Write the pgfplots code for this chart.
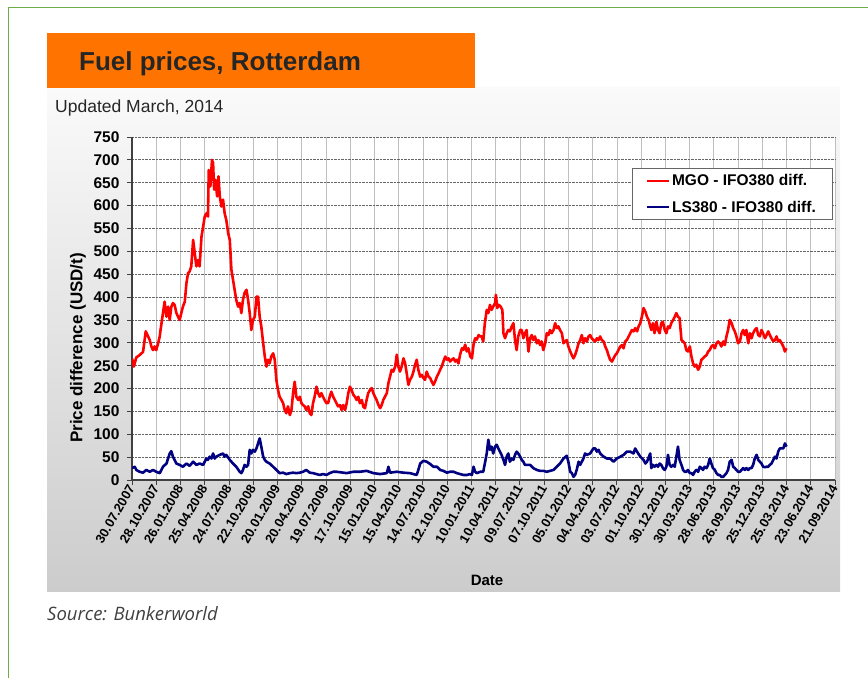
\documentclass[border=0pt]{standalone}
\usepackage{fontspec}
\setmainfont{Liberation Sans}
\newfontfamily\srcfont{Open Sans}
\usepackage{pgfplots}
\pgfplotsset{compat=1.18}
\definecolor{orangeT}{RGB}{255,116,0}
\definecolor{greenB}{RGB}{112,173,71}
\definecolor{mgo}{RGB}{255,0,0}
\definecolor{lsc}{RGB}{0,0,128}
\begin{document}
\begin{tikzpicture}[x=1pt,y=1pt]
\path[use as bounding box] (0,0) rectangle (868,678);
\draw[greenB, line width=1.3pt] (8.5,0) -- (8.5,670.5) -- (868,670.5);
\shade[top color=white!98!black, bottom color=black!20] (47,86) rectangle (840,590);
\fill[orangeT] (47,590) rectangle (475,645);
\node[anchor=base west, inner sep=0, font=\bfseries\fontsize{26}{30}\selectfont, text=black!85] at (79,607) {Fuel prices, Rotterdam};
\node[anchor=base west, inner sep=0, font=\fontsize{17.5}{20}\selectfont, text=black!85] at (55,565) {Updated March, 2014};
\node[anchor=base west, inner sep=0, font=\srcfont\itshape\fontsize{18.5}{22}\selectfont, text=black!75] at (47,58) {Source: Bunkerworld};
\begin{axis}[
  at={(132pt,198pt)}, anchor=south west,
  scale only axis, width=703pt, height=343pt,
  xmin=0, xmax=2610, ymin=0, ymax=750,
  axis lines*=left,
  axis line style={black!75, line width=1.2pt},
  xtick={0,90,...,2610},
  ytick={0,50,...,750},
  xticklabels={30.07.2007,28.10.2007,26.01.2008,25.04.2008,24.07.2008,22.10.2008,20.01.2009,20.04.2009,19.07.2009,17.10.2009,15.01.2010,15.04.2010,14.07.2010,12.10.2010,10.01.2011,10.04.2011,09.07.2011,07.10.2011,05.01.2012,04.04.2012,03.07.2012,01.10.2012,30.12.2012,30.03.2013,28.06.2013,26.09.2013,25.12.2013,25.03.2014,23.06.2014,21.09.2014},
  tick align=outside, major tick length=5pt,
  tick style={black!75, line width=0.8pt},
  xmajorgrids, ymajorgrids,
  major x grid style={black!25, line width=0.6pt},
  major y grid style={black!60, densely dotted, line width=0.8pt},
  axis background/.style={fill=white},
  /pgf/number format/assume math mode=true,
  x tick label style={rotate=60, anchor=east, font=\bfseries\fontsize{13}{15}\selectfont, inner sep=1pt},
  y tick label style={font=\bfseries\fontsize{15.5}{18}\selectfont, xshift=-4pt},
  ylabel={Price difference (USD/t)},
  ylabel style={at={(axis description cs:-0.077,0.385)}, anchor=center, font=\bfseries\fontsize{17}{20}\selectfont},
  xlabel={Date},
  xlabel style={at={(axis description cs:0.505,-0.2915)}, anchor=center, font=\bfseries\fontsize{15}{18}\selectfont},
  legend style={at={(axis description cs:0.711,0.9096)}, anchor=north west, draw=black!60, fill=white,
    font=\bfseries\fontsize{15.5}{17}\selectfont, inner xsep=14pt, inner ysep=4pt, row sep=10pt},
  legend cell align=left,
  legend image code/.code={\draw[#1, line width=2pt] (0pt,0pt) -- (22pt,0pt);},
]
\addplot[mgo, line width=2.6pt, line join=round] coordinates {
(0,266)(7,248)(16,268)(28,273)(35,277)(41,280)(51,325)(66,306)(72,292)(78,284)(84,292)(90,284)(97,299)(103,314)(106,328)(115,365)(121,390)(128,357)(134,379)(140,350)(146,379)(152,387)(158,383)(165,365)(171,357)(177,350)(183,365)(189,379)(196,390)(202,430)(208,452)(214,456)(220,467)(227,525)(233,496)(239,467)(245,481)(251,467)(258,532)(264,554)(270,576)(276,583)(282,576)(285,678)(291,642)(297,700)(301,693)(305,635)(310,656)(316,620)(321,664)(326,620)(332,598)(338,613)(344,583)(350,569)(357,540)(363,525)(369,460)(375,438)(381,416)(387,394)(394,379)(400,387)(406,365)(412,394)(418,409)(425,416)(431,394)(437,365)(443,328)(449,350)(456,357)(462,401)(468,401)(474,357)(480,336)(487,299)(493,270)(499,248)(505,263)(511,255)(517,270)(524,277)(530,263)(536,219)(542,197)(548,182)(555,175)(561,168)(567,153)(573,146)(579,161)(586,142)(592,153)(598,190)(604,215)(610,182)(617,175)(623,182)(629,168)(635,164)(641,161)(647,153)(654,161)(660,146)(666,142)(672,168)(678,182)(685,204)(691,190)(697,182)(703,190)(709,182)(715,175)(722,168)(728,168)(734,182)(740,193)(747,182)(753,175)(759,168)(765,161)
(772,164)(778,153)(784,164)(791,153)(797,168)(803,190)(809,204)(815,197)(822,186)(828,182)(834,175)(840,182)(846,168)(853,175)(859,160)(865,157)(871,175)(877,190)(884,197)(890,201)(896,190)(902,182)(908,175)(915,164)(921,157)(927,164)(933,175)(939,182)(946,190)(952,212)(958,226)(964,241)(970,237)(977,248)(983,274)(989,248)(995,237)(1001,248)(1008,266)(1014,255)(1020,233)(1026,208)(1032,219)(1039,226)(1045,237)(1051,252)(1057,263)(1063,241)(1070,226)(1076,230)(1082,223)(1088,219)(1094,237)(1101,226)(1107,223)(1113,215)(1119,208)(1125,215)(1132,226)(1138,233)(1144,241)(1150,248)(1156,259)(1163,270)(1169,263)(1175,266)(1181,259)(1187,263)(1194,266)(1200,259)(1206,263)(1212,255)(1218,274)(1225,288)(1231,285)(1237,296)(1243,281)(1249,288)(1256,270)(1262,266)(1268,296)(1274,310)(1280,307)(1287,317)(1293,314)
(1298,314)(1304,303)(1310,343)(1317,372)(1323,365)(1329,383)(1335,372)(1341,379)(1348,387)(1351,405)(1356,376)(1362,383)(1369,379)(1375,372)(1379,321)(1385,310)(1391,321)(1397,328)(1403,325)(1410,336)(1416,343)(1422,306)(1428,284)(1434,314)(1441,328)(1447,328)(1453,310)(1459,321)(1465,328)(1472,281)(1478,310)(1484,317)(1490,306)(1496,314)(1503,299)(1509,306)(1515,295)(1521,303)(1527,284)(1534,299)(1540,321)(1546,317)(1552,328)(1558,321)(1565,328)(1571,343)(1577,332)(1583,336)(1589,328)(1596,321)(1602,299)(1608,303)(1614,306)(1620,292)(1627,281)(1633,273)(1639,266)(1645,273)(1651,284)(1658,299)(1664,306)(1670,317)(1676,299)(1682,310)(1689,303)(1695,314)(1701,317)(1707,310)(1713,306)(1720,303)(1726,310)(1732,306)(1738,314)(1744,306)(1751,303)(1757,292)(1763,284)(1769,273)(1775,263)(1782,259)(1788,266)(1794,273)(1800,277)(1806,284)(1813,292)(1819,295)(1825,288)(1831,303)(1837,306)(1844,314)(1850,321)(1856,328)(1862,325)(1868,332)(1875,325)(1881,336)(1887,343)(1893,357)(1899,376)(1906,368)(1912,357)(1918,350)(1924,336)
(1928,328)(1934,343)(1940,321)(1947,346)(1953,328)(1959,321)(1965,343)(1971,346)(1978,328)(1984,321)(1990,336)(1996,332)(2002,343)(2009,350)(2015,357)(2021,365)(2027,357)(2033,354)(2040,306)(2046,303)(2052,299)(2058,284)(2064,281)(2071,292)(2077,270)(2083,255)(2089,248)(2095,252)(2102,241)(2108,248)(2114,263)(2120,266)(2126,270)(2133,273)(2139,281)(2145,284)(2151,292)(2157,295)(2164,288)(2170,299)(2176,303)(2182,299)(2188,292)(2195,303)(2201,295)(2207,314)(2213,328)(2219,350)(2226,343)(2232,332)(2238,325)(2244,314)(2250,299)(2257,303)(2263,321)(2269,328)(2275,317)(2281,328)(2288,299)(2294,321)(2300,310)(2306,321)(2312,328)(2319,332)(2325,317)(2331,314)(2337,328)(2343,321)(2350,310)(2356,317)(2362,325)(2368,317)(2374,310)(2381,303)(2387,306)(2393,314)(2399,303)(2405,306)(2412,299)(2418,292)(2424,281)(2430,288)
};
\addlegendentry{MGO - IFO380 diff.}
\addplot[lsc, line width=2.6pt, line join=round] coordinates {
(0,26)(10,29)(16,22)(28,18)(41,16)(53,22)(66,18)(78,22)(90,18)(103,15)(109,22)(115,29)(128,36)(140,58)(146,63)(152,51)(158,44)(165,36)(177,33)(189,29)(202,36)(214,31)(227,40)(239,33)(251,36)(264,33)(276,47)(282,44)(288,51)(295,47)(301,58)(307,47)(313,51)(326,55)(338,58)(344,51)(350,55)(363,44)(375,36)(387,29)(400,18)(406,15)(412,22)(418,33)(425,29)(431,33)(437,66)(443,58)(449,66)(456,62)(462,69)(468,80)(474,91)(480,73)(487,51)(493,44)(499,40)(511,36)(524,29)(536,22)(548,15)(561,16)(573,13)(586,15)(598,16)(610,15)(623,16)(635,18)(647,22)(660,16)(672,15)(685,13)(697,11)(709,13)(722,11)(734,15)(747,18)(759,18)
(772,17)(797,15)(822,18)(846,18)(871,20)(896,15)(921,13)(946,15)(952,29)(958,16)(983,18)(1008,16)(1032,15)(1057,11)(1063,22)(1070,36)(1082,42)(1094,40)(1107,35)(1119,29)(1132,29)(1144,22)(1156,20)(1169,16)(1181,18)(1194,18)(1206,15)(1218,13)(1231,11)(1243,11)(1256,13)(1262,11)(1268,29)(1274,18)(1280,15)(1293,18)
(1304,18)(1310,36)(1317,58)(1323,88)(1329,66)(1335,73)(1341,58)(1348,73)(1354,77)(1360,69)(1366,62)(1372,55)(1379,44)(1385,33)(1391,51)(1397,58)(1403,40)(1410,47)(1416,44)(1422,55)(1428,62)(1434,58)(1441,51)(1447,44)(1453,40)(1459,33)(1465,33)(1478,33)(1490,26)(1503,22)(1515,20)(1527,20)(1540,18)(1552,20)(1565,22)(1577,29)(1589,36)(1602,47)(1614,53)(1620,40)(1627,18)(1633,15)(1639,7)(1645,11)(1651,22)(1658,40)(1664,33)(1676,47)(1682,58)(1689,55)(1701,58)(1713,69)(1720,69)(1726,62)(1732,66)(1738,58)(1751,51)(1763,47)(1775,47)(1788,40)(1800,47)(1813,51)(1825,55)(1837,62)(1850,62)(1862,58)(1868,69)(1875,62)(1887,51)(1899,44)(1906,36)(1912,40)(1924,58)
(1928,26)(1934,33)(1940,29)(1947,33)(1953,29)(1959,36)(1965,33)(1971,26)(1978,22)(1984,29)(1990,55)(1996,33)(2002,29)(2009,33)(2015,29)(2021,51)(2027,73)(2033,44)(2040,33)(2046,22)(2052,18)(2058,18)(2064,22)(2071,15)(2077,15)(2083,11)(2089,18)(2095,22)(2102,18)(2108,29)(2114,26)(2120,22)(2126,29)(2133,26)(2139,33)(2145,47)(2151,36)(2157,26)(2164,22)(2170,15)(2176,11)(2182,11)(2188,7)(2195,7)(2201,11)(2207,15)(2213,22)(2219,40)(2226,44)(2232,29)(2238,26)(2244,22)(2250,18)(2257,18)(2263,22)(2269,26)(2275,22)(2281,26)(2288,22)(2294,26)(2300,26)(2306,33)(2312,47)(2319,55)(2325,44)(2331,40)(2337,36)(2343,29)(2350,28)(2356,29)(2362,29)(2368,33)(2374,36)(2381,44)(2387,51)(2393,47)(2399,62)(2405,69)(2412,69)(2418,69)(2424,80)(2430,73)
};
\addlegendentry{LS380 - IFO380 diff.}
\end{axis}
\end{tikzpicture}
\end{document}
